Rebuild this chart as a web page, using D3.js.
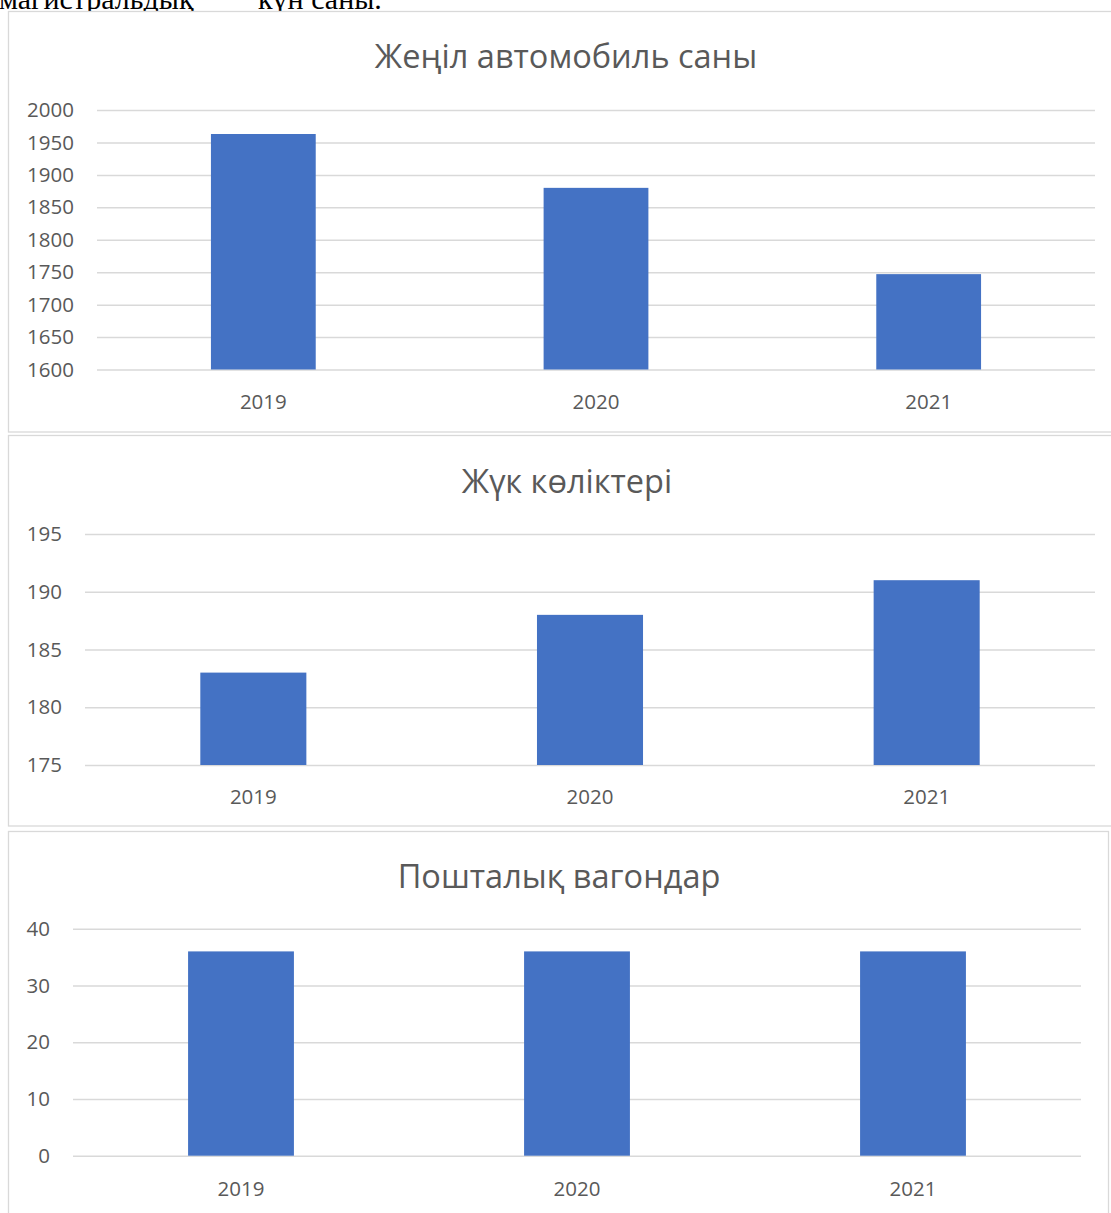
<!DOCTYPE html>
<html>
<head>
<meta charset="utf-8">
<script src="https://cdn.jsdelivr.net/npm/d3@7"></script>
<style>
  html, body { margin: 0; padding: 0; background: #fff; }
  svg { display: block; }
</style>
</head>
<body>
<svg id="page" width="1111" height="1213"></svg>
<script>
// Years shown on every panel
const years = ["2019", "2020", "2021"];

// Panel titles
const titles = ["Жеңіл автомобиль саны", "Жүк көліктері", "Пошталық вагондар"];

// Series values
const lightCars = [1963, 1880, 1747];
const trucks = [183, 188, 191];
const postalWagons = [36, 36, 36];

// Value-axis tick labels
const lightCarTicks = [1600, 1650, 1700, 1750, 1800, 1850, 1900, 1950, 2000];
const truckTicks = [175, 180, 185, 190, 195];
const wagonTicks = [0, 10, 20, 30, 40];

const BAR = "#4472C4";
const GRID = "#D9D9D9";
const TEXT = "#595959";
const FONT = "'Open Sans', 'Noto Sans', sans-serif";

const svg = d3.select("#page");

// Caption line from the surrounding document, running into the top edge
const caption = svg.append("text")
  .attr("y", 9)
  .attr("font-family", "'Liberation Serif', 'DejaVu Serif', serif")
  .attr("font-size", 30)
  .attr("fill", "#000");
caption.append("tspan").attr("x", -1).text("магистральдық");
caption.append("tspan").attr("x", 258).text("күн саны.");

const panels = [
  {
    title: titles[0], values: lightCars, ticks: lightCarTicks,
    frame: { x: 8.5, y: 11.5, w: 1120, h: 420.5 },
    x0: 97, x1: 1095, yTop: 110, yBottom: 369.5,
    titleX: 566, titleY: 68, catY: 409
  },
  {
    title: titles[1], values: trucks, ticks: truckTicks,
    frame: { x: 8.5, y: 435.5, w: 1120, h: 390.5 },
    x0: 85, x1: 1095, yTop: 534, yBottom: 765,
    titleX: 567, titleY: 493, catY: 804
  },
  {
    title: titles[2], values: postalWagons, ticks: wagonTicks,
    frame: { x: 8.5, y: 831.5, w: 1100, h: 400 },
    x0: 73, x1: 1081, yTop: 928.7, yBottom: 1155.7,
    titleX: 559, titleY: 888, catY: 1196
  }
];

panels.forEach(p => {
  const g = svg.append("g");

  // chart-area border
  g.append("rect")
    .attr("x", p.frame.x).attr("y", p.frame.y)
    .attr("width", p.frame.w).attr("height", p.frame.h)
    .attr("fill", "#fff")
    .attr("stroke", GRID).attr("stroke-width", 1.3);

  const x = d3.scaleBand()
    .domain(years)
    .range([p.x0, p.x1])
    .paddingInner(0.685)
    .paddingOuter(0.3425);

  const y = d3.scaleLinear()
    .domain([d3.min(p.ticks), d3.max(p.ticks)])
    .range([p.yBottom, p.yTop]);

  // horizontal gridlines with value labels
  const yAxis = d3.axisLeft(y)
    .tickValues(p.ticks)
    .tickSize(-(p.x1 - p.x0))
    .tickPadding(23)
    .tickFormat(d3.format("d"));

  const ya = g.append("g")
    .attr("transform", `translate(${p.x0},0)`)
    .call(yAxis);
  ya.select(".domain").remove();
  ya.selectAll(".tick line").attr("stroke", GRID).attr("stroke-width", 1.5);
  ya.selectAll(".tick text")
    .attr("fill", TEXT)
    .attr("font-family", FONT)
    .attr("font-size", 20.5);

  // bars
  g.selectAll("rect.bar")
    .data(years.map((yr, i) => ({ yr, v: p.values[i] })))
    .join("rect")
    .attr("class", "bar")
    .attr("x", d => x(d.yr))
    .attr("width", x.bandwidth())
    .attr("y", d => y(d.v))
    .attr("height", d => y.range()[0] - y(d.v))
    .attr("fill", BAR);

  // category labels
  const xAxis = d3.axisBottom(x).tickSize(0).tickPadding(0);
  const xa = g.append("g")
    .attr("transform", `translate(0,${p.catY})`)
    .call(xAxis);
  xa.select(".domain").remove();
  xa.selectAll(".tick text")
    .attr("y", 0).attr("dy", 0)
    .attr("fill", TEXT)
    .attr("font-family", FONT)
    .attr("font-size", 20.5);

  // title
  g.append("text")
    .attr("x", p.titleX).attr("y", p.titleY)
    .attr("text-anchor", "middle")
    .attr("fill", TEXT)
    .attr("font-family", FONT)
    .attr("font-size", 32.5)
    .text(p.title);
});
</script>
</body>
</html>
